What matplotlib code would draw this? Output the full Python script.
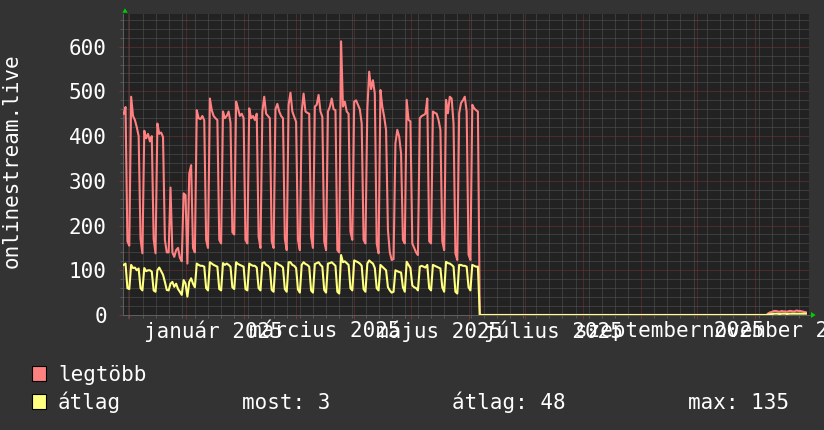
"""Yearly listener graph for onlinestream.live, drawn in rrdtool dark style.

Two daily series: 'legtöbb' (daily max) and 'átlag' (daily average),
monthly red major grid, weekly grey minor grid, green axis arrows.
"""

import numpy as np
import pandas as pd
import matplotlib
matplotlib.use('Agg')
import matplotlib.pyplot as plt
import matplotlib.dates as mdates
from matplotlib.patches import Rectangle, Polygon
from matplotlib.ticker import MultipleLocator, FixedLocator

FIG_W, FIG_H = 824, 430
DPI = 100
FONT = 'DejaVu Sans Mono'
FS = 15

BG = '#333333'
CANVAS = '#222222'
C_MAX = '#ff8080'
C_AVG = '#ffff80'
C_GRID = '#575757'
C_MGRID = '#7a3434'
C_AXIS = '#5e5e5e'
C_ARROW = '#00cc00'

# ---- data (one value per day) --------------------------------------------
FIRST_DAY = '2024-11-28'          # Thu; points sit near the bucket centre
DAY_SHIFT_H = 22

# legtöbb: Thu..Sun lead-in, then Mon..Sun weeks from 2024-12-02
MAX_LEAD = [450, 465, 165, 155]
MAX_WEEKS = [
    [488, 445, 436, 420, 400, 170, 138],   # dec 2
    [412, 395, 405, 388, 400, 170, 138],   # dec 9
    [428, 405, 408, 398, 168, 140, 140],   # dec 16
    [285, 140, 130, 145, 150, 128, 120],   # dec 23
    [272, 268, 115, 316, 335, 150, 140],   # dec 30
    [458, 440, 438, 445, 435, 168, 150],   # jan 6
    [484, 458, 445, 440, 436, 168, 160],   # jan 13
    [455, 440, 445, 455, 430, 185, 180],   # jan 20
    [477, 462, 445, 450, 440, 168, 160],   # jan 27
    [462, 440, 445, 436, 450, 175, 150],   # feb 3
    [455, 488, 450, 445, 440, 165, 150],   # feb 10
    [460, 472, 455, 445, 440, 170, 145],   # feb 17
    [470, 497, 455, 443, 432, 168, 145],   # feb 24
    [455, 495, 455, 452, 450, 175, 150],   # mar 3
    [466, 470, 492, 455, 443, 165, 145],   # mar 10
    [455, 465, 484, 460, 458, 145, 140],   # mar 17
    [612, 466, 477, 455, 450, 186, 168],   # mar 24
    [477, 480, 470, 460, 428, 168, 160],   # mar 31
    [460, 544, 505, 525, 495, 160, 138],   # apr 7
    [503, 466, 443, 414, 190, 140, 123],   # apr 14
    [125, 384, 414, 399, 361, 168, 160],   # apr 21
    [481, 436, 433, 160, 150, 140, 134],   # apr 28
    [440, 445, 447, 450, 484, 165, 160],   # may 5
    [455, 452, 450, 436, 414, 165, 145],   # may 12
    [481, 451, 488, 484, 428, 138, 123],   # may 19
    [451, 474, 480, 488, 455, 135, 123],   # may 26
]
MAX_LAST = [470, 462, 458, 455]           # jun 2-5

# átlag
AVG_LEAD = [112, 115, 60, 58]
AVG_WEEKS = [
    [112, 105, 106, 100, 104, 60, 55],
    [105, 98, 100, 100, 97, 55, 52],
    [100, 106, 98, 90, 74, 56, 55],
    [70, 74, 63, 70, 58, 52, 45],
    [78, 70, 41, 74, 82, 70, 62],
    [115, 112, 110, 110, 108, 60, 55],
    [118, 115, 112, 110, 108, 58, 55],
    [116, 112, 115, 112, 108, 62, 58],
    [118, 114, 112, 110, 108, 58, 55],
    [115, 112, 110, 110, 106, 60, 55],
    [116, 118, 112, 110, 105, 56, 52],
    [117, 115, 112, 110, 106, 58, 52],
    [118, 118, 112, 110, 105, 57, 50],
    [112, 118, 114, 112, 108, 55, 50],
    [114, 116, 118, 112, 108, 56, 50],
    [115, 116, 118, 114, 110, 52, 48],
    [134, 118, 120, 116, 112, 60, 55],
    [122, 120, 118, 115, 110, 58, 52],
    [115, 122, 118, 115, 105, 60, 55],
    [112, 108, 104, 100, 62, 55, 50],
    [52, 100, 98, 96, 95, 62, 52],
    [119, 112, 105, 66, 62, 60, 55],
    [108, 110, 108, 106, 112, 60, 55],
    [112, 110, 108, 106, 104, 62, 52],
    [119, 116, 115, 112, 108, 52, 48],
    [112, 112, 110, 110, 108, 62, 55],
]
AVG_LAST = [112, 110, 108, 108]

GAP_DAYS = 154                            # jun 6 - nov 6: flat zero
TAIL_MAX = [4, 6, 7, 9, 9, 8, 7, 9, 8, 8, 7, 9, 9, 8, 8, 10, 9, 9, 8, 7, 6]
TAIL_AVG = [1, 2, 2, 3, 3, 3, 2, 3, 3, 3, 2, 3, 3, 3, 3, 3, 3, 3, 3, 3, 3]

X_START = '2024-11-28 20:00'
X_END = '2025-11-29 20:00'
Y_MAX = 673

LABEL_MONTHS = ['2025-01-01', '2025-03-01', '2025-05-01',
                '2025-07-01', '2025-09-01', '2025-11-01']
LABEL_TEXTS = ['január 2025', 'március 2025', 'május 2025',
               'július 2025', 'szeptember 2025', 'november 2025']

LEGEND_NAMES = ['legtöbb', 'átlag']
GPRINT_TEXTS = ['most: 3', 'átlag: 48', 'max: 135']
Y_LABEL = 'onlinestream.live'


def fx(px):
    return px / FIG_W


def fy(py):
    return 1 - py / FIG_H


def build_series(lead, weeks, last, tail):
    vals = list(lead)
    for w in weeks:
        vals.extend(w)
    vals.extend(last)
    vals.extend([0] * GAP_DAYS)
    vals.extend(tail)
    return np.array(vals, dtype=float)


def main():
    plt.rcParams['font.family'] = [FONT, 'DejaVu Sans']
    fig = plt.figure(figsize=(FIG_W / DPI, FIG_H / DPI), dpi=DPI)
    fig.patch.set_facecolor(BG)

    ax = fig.add_axes([fx(123.5), fy(315), (809.5 - 123.5) / FIG_W,
                       (315 - 14) / FIG_H])
    ax.set_facecolor(CANVAS)

    max_vals = build_series(MAX_LEAD, MAX_WEEKS, MAX_LAST, TAIL_MAX)
    avg_vals = build_series(AVG_LEAD, AVG_WEEKS, AVG_LAST, TAIL_AVG)
    times = (pd.date_range(FIRST_DAY, periods=len(max_vals), freq='D')
             + pd.Timedelta(hours=DAY_SHIFT_H))

    ax.plot(times, max_vals, color=C_MAX, lw=1.5, zorder=3)
    ax.plot(times, avg_vals, color=C_AVG, lw=1.5, zorder=4)

    ax.set_xlim(pd.Timestamp(X_START), pd.Timestamp(X_END))
    ax.set_ylim(0, Y_MAX)

    # grid
    month_starts = pd.date_range('2024-12-01', '2025-11-01', freq='MS')
    mondays = pd.date_range('2024-12-02', '2025-11-24', freq='W-MON')
    ax.xaxis.set_major_locator(FixedLocator(mdates.date2num(month_starts)))
    ax.xaxis.set_minor_locator(FixedLocator(mdates.date2num(mondays)))
    ax.yaxis.set_major_locator(MultipleLocator(100))
    ax.yaxis.set_minor_locator(MultipleLocator(20))
    ax.set_axisbelow(True)
    ax.grid(which='minor', color=C_GRID, lw=0.72, ls=(0, (1, 1)))
    ax.grid(which='major', color=C_MGRID, lw=0.72, ls=(0, (1, 1)))

    ax.tick_params(which='major', direction='out', length=3, width=0.72,
                   color=C_MGRID)
    ax.tick_params(which='minor', direction='out', length=2, width=0.72,
                   color=C_GRID)
    ax.tick_params(axis='x', which='both', labelbottom=False)
    ax.set_yticks(range(0, 700, 100))
    ax.set_yticklabels([str(v) for v in range(0, 700, 100)])
    ax.tick_params(axis='y', which='major', pad=9, labelsize=FS,
                   labelcolor='white')

    for side in ('top', 'right'):
        ax.spines[side].set_visible(False)
    for side in ('left', 'bottom'):
        ax.spines[side].set_color(C_AXIS)
        ax.spines[side].set_linewidth(0.72)

    # month labels, centred half a month after the month start
    for m, txt in zip(LABEL_MONTHS, LABEL_TEXTS):
        pos = pd.Timestamp(m) + pd.Timedelta(days=15)
        ax.annotate(txt, xy=(mdates.date2num(pos), 0),
                    xycoords=('data', 'axes fraction'),
                    xytext=(0, -6 * 72 / DPI), textcoords='offset points',
                    ha='center', va='top', fontsize=FS, color='white',
                    annotation_clip=False)

    fig.text(fx(12), fy(161), Y_LABEL, rotation=90, ha='center',
             va='center', fontsize=FS, color='white')

    # arrows at the axis ends
    fig.patches.append(Polygon(
        [(fx(122.3), fy(12.7)), (fx(127.7), fy(12.7)), (fx(125), fy(8.3))],
        closed=True, transform=fig.transFigure, color=C_ARROW, lw=0))
    fig.patches.append(Polygon(
        [(fx(811), fy(312)), (fx(811), fy(318)), (fx(815.7), fy(315))],
        closed=True, transform=fig.transFigure, color=C_ARROW, lw=0))

    # legend
    rows = [381, 409]
    for (name, col), base in zip(zip(LEGEND_NAMES, [C_MAX, C_AVG]), rows):
        fig.patches.append(Rectangle(
            (fx(32), fy(base)), 14 / FIG_W, 15 / FIG_H,
            transform=fig.transFigure, facecolor=col, edgecolor='black',
            lw=0.8))
        fig.text(fx(58), fy(base), name, ha='left', va='baseline',
                 fontsize=FS, color='white')
    for txt, x in zip(GPRINT_TEXTS, [242, 452, 688]):
        fig.text(fx(x), fy(rows[1]), txt, ha='left', va='baseline',
                 fontsize=FS, color='white')

    fig.savefig('out.png', dpi=DPI, facecolor=BG)


if __name__ == '__main__':
    main()
